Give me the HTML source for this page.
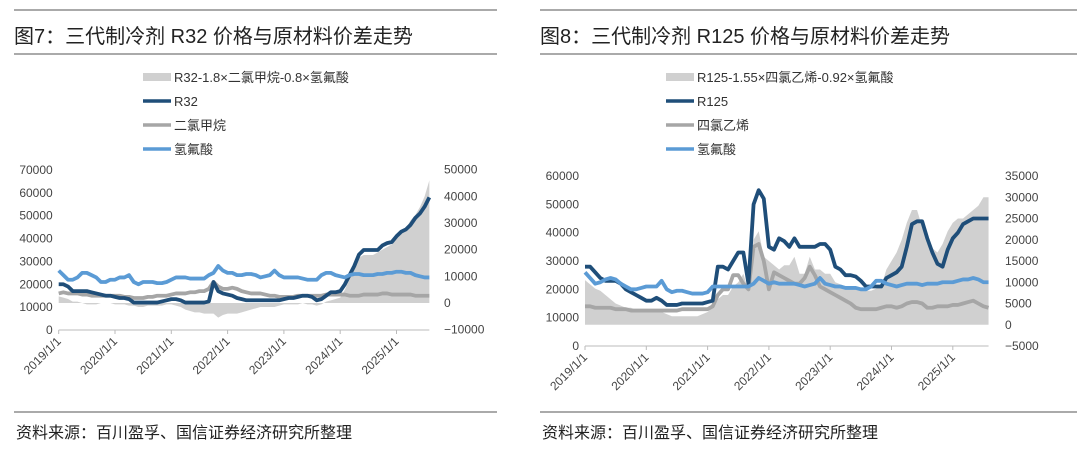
<!DOCTYPE html>
<html><head><meta charset="utf-8"><style>
body{margin:0;background:#fff;width:1080px;height:449px;overflow:hidden;font-family:"Liberation Sans","Noto Sans CJK SC",sans-serif}
svg{position:absolute;left:0;top:0}
</style></head><body>
<svg id="c" width="1080" height="449" xmlns="http://www.w3.org/2000/svg"></svg>
<script>
const years = ["2019/1/1","2020/1/1","2021/1/1","2022/1/1","2023/1/1","2024/1/1","2025/1/1"];
const leftTicksA = [0,10000,20000,30000,40000,50000,60000,70000];
const rightTicksA = [-10000,0,10000,20000,30000,40000,50000];
const leftTicksB = [0,10000,20000,30000,40000,50000,60000];
const rightTicksB = [-5000,0,5000,10000,15000,20000,25000,30000,35000];
const r32 = [20000,20000,19000,17000,17000,17000,17000,16500,16000,15500,15000,15000,
14500,14000,14000,13500,12000,12000,12000,12000,12000,12000,12500,13000,
13500,13500,13000,12000,12000,12000,12000,12000,12500,21000,17000,16000,
15500,15000,14000,13500,13000,13000,13000,13000,13000,13000,13000,13000,
13500,14000,14000,14500,15000,15000,14500,13000,13500,15000,16500,16500,
17000,20000,24000,28000,33000,35000,35000,35000,35000,37000,38000,38500,
41000,43000,44000,46000,49000,51000,54000,58000];
const hfA = [26000,24000,22000,22000,23000,25000,25000,24000,23000,21000,21000,22000,
22000,23000,23000,24000,21000,20000,21000,21000,21000,20500,20500,21000,
22000,23000,23000,23000,22500,22500,22500,22500,24000,25000,28000,26000,
25000,25000,24000,24000,24500,24500,24000,23000,23500,24000,26000,24000,
23000,23000,23000,23000,22500,22000,22000,22000,24000,25000,25000,24000,
23500,23000,24000,24500,24500,24000,24000,24000,24500,24500,25000,25000,
25500,25500,25000,25000,24000,23500,23000,23000];
const dcm = [16000,16500,16000,16000,16000,15500,15500,15000,15000,15000,15000,15000,
15000,15000,14500,14500,14000,14000,14000,14500,14500,15000,15000,15000,
15500,16000,16000,16000,16500,16500,17000,17000,18000,21000,19000,18000,
18000,18500,18000,17000,16500,16000,16000,16000,15500,15000,15000,14500,
14500,14500,14500,15000,15000,15000,15000,15000,15000,15500,15500,15500,
15500,15500,15000,15000,15000,15500,15500,15500,15500,16000,16000,15500,
15500,15500,15500,15500,15000,15000,15000,15000];
const spreadA = [2500,2000,1500,500,500,0,-500,-500,-500,0,0,0,
-500,-500,-500,-1000,-1000,-1500,-1500,-1000,-1000,-1000,-1000,-500,
-500,-1000,-1500,-2500,-3000,-3500,-3500,-4000,-4000,-4000,-5500,-4500,
-4000,-4000,-4000,-3500,-3000,-2500,-2000,-1500,-1500,-1500,-1500,-1000,
-500,-500,-500,-500,0,-500,-500,-1000,-500,500,1000,1500,
2000,5000,9000,13000,17000,18000,18000,18000,19000,20000,21000,22000,
25000,27000,28000,31000,33000,36000,40000,46000];
const r125 = [28000,28000,26000,24000,23000,23000,23000,22000,20000,19000,18000,17000,
16000,16000,17000,16000,14500,14500,14500,15000,15000,15000,15000,15000,
15500,16000,28000,28000,27000,30000,33000,33000,22000,50000,55000,52000,
35000,34000,38000,37000,35000,38000,35000,35000,35000,35000,36000,36000,
34000,28000,27000,25000,25000,24500,23000,21000,21000,21000,21000,24000,
25000,26000,28000,35000,43000,44000,44000,38000,33000,29000,28000,34000,
38000,40000,43000,44000,45000,45000,45000,45000];
const hfB = [26000,24000,22000,22500,23500,24000,23500,22000,21000,20000,20000,20500,
21000,21000,21000,23000,20000,19000,19500,19500,19000,18500,18500,18500,
19000,21000,21000,21000,21000,21000,21000,21000,21000,22000,24000,23000,
22000,22500,22000,22000,22000,22000,21500,21000,21500,22000,24000,22000,
21500,21000,21000,20500,20500,20500,20000,20000,21000,23000,23000,22000,
21500,21000,21500,22000,22000,22000,21500,22000,22000,22000,22500,22500,
22500,23000,23500,23500,24000,23500,22500,22500];
const pce = [14000,14000,13500,13500,13500,13500,13000,13000,13000,12500,12500,12500,
12500,12500,12500,12500,12500,12500,12500,13000,13000,13000,13000,13000,
13000,14000,18000,20000,20000,25000,25000,22000,20000,35000,36000,30000,
20000,26000,25000,24000,23000,22000,22000,24000,28000,25000,21000,20000,
19000,18000,17000,16000,15000,13500,13000,13000,13000,13000,13500,14000,
14000,13500,14000,15000,15500,15500,15000,13500,13500,14000,14000,14000,
14500,14500,15000,15500,16000,15000,14000,13500];
const spreadB = [10500,9500,8500,8000,7000,6000,5000,4500,4000,4000,3500,3000,
3000,3000,3500,3000,2500,2000,2000,2000,2000,2000,2000,2500,
3000,4000,6000,7000,7000,9000,10000,12000,8000,20000,22000,16000,
15000,14000,13000,14000,14000,16000,12000,12000,16000,13000,13000,12000,
12000,10000,9500,9000,9000,9000,8500,8000,8000,8500,9000,13000,
15000,17000,20000,24000,27000,27000,23000,19000,18000,17000,19000,22000,
24000,25000,25000,26000,27000,28000,30000,30000];

const NS='http://www.w3.org/2000/svg';
const svg=document.getElementById('c');
function mk(tag,attrs,parent){const e=document.createElementNS(NS,tag);for(const k in attrs)e.setAttribute(k,attrs[k]);(parent||svg).appendChild(e);return e;}

function panel(cfg){
  const g=mk('g',{});
  
  
  const x0=cfg.x0, yrW=cfg.yrW;
  const xs=i=>x0+i*yrW/12;
  const yl=v=>cfg.l0-v*cfg.lk;
  const yr=v=>cfg.r0-v*cfg.rk;
  let l=mk('line',{x1:cfg.fx1,x2:cfg.fx2,y1:10,y2:10,stroke:'#777','stroke-width':1.3},g);
  
  l=mk('line',{x1:cfg.fx1,x2:cfg.fx2,y1:54,y2:54,stroke:'#777','stroke-width':1.3},g);
  
  l=mk('line',{x1:cfg.fx1,x2:cfg.fx2,y1:412,y2:412,stroke:'#777','stroke-width':1.3},g);
  
  let t=mk('text',{x:cfg.fx1,y:43,'font-size':20,fill:'#222'},g);t.textContent=cfg.title;
  
  t=mk('text',{x:cfg.fx1+2,y:438,'font-size':16,fill:'#222'},g);t.textContent='资料来源：百川盈孚、国信证券经济研究所整理';
  
  const leg=[['#d0d0d0',cfg.names[0],8],['#1f4e79',cfg.names[1],3.5],['#a6a6a6',cfg.names[2],3.5],['#5b9bd5',cfg.names[3],3.5]];
  leg.forEach((d,i)=>{
    const y=cfg.legY+i*24;
    const lg=mk('g',{},g);
    
    mk('line',{x1:cfg.legX,x2:cfg.legX+28,y1:y,y2:y,stroke:d[0],'stroke-width':d[2]},lg);
    const tt=mk('text',{x:cfg.legX+31,y:y+5,'font-size':13,fill:'#333'},lg);tt.textContent=d[1];
  });
  cfg.lt.forEach(v=>{const e=mk('text',{x:cfg.x0-6,y:yl(v)+4,'font-size':12,fill:'#444','text-anchor':'end'},g);e.textContent=v;
    });
  cfg.rt.forEach(v=>{const e=mk('text',{x:cfg.rx,y:yr(v)+4,'font-size':12,fill:'#444'},g);e.textContent=v<0?'−'+(-v):v;
    });
  const n=cfg.spread.length;
  let d='M'+xs(0)+','+yr(0);
  cfg.spread.forEach((v,i)=>{d+=' L'+xs(i)+','+yr(v);});
  d+=' L'+xs(n-1)+','+yr(0)+'Z';
  const a=mk('path',{d:d,fill:'#d0d0d0'},g);
  
  const ax=mk('line',{x1:x0,x2:xs(n-1),y1:yl(0),y2:yl(0),stroke:'#bbb'},g);
  
  years.forEach((y,i)=>{
    const x=x0+i*yrW;
    mk('line',{x1:x,x2:x,y1:yl(0),y2:yl(0)+4,stroke:'#bbb'},g);
    const e=mk('text',{x:x+3,y:yl(0)+12,'font-size':12,fill:'#444','text-anchor':'end',transform:'rotate(-45 '+(x+3)+' '+(yl(0)+12)+')'},g);
    e.textContent=y;
    
  });
  [[cfg.gray,'#a6a6a6','raw-material-line'],[cfg.main,'#1f4e79','product-price-line'],[cfg.hf,'#5b9bd5','hf-price-line']].forEach(s=>{
    const p=mk('polyline',{points:s[0].map((v,i)=>xs(i)+','+yl(v)).join(' '),fill:'none',stroke:s[1],'stroke-width':3.8,'stroke-linejoin':'round'},g);
    
    
  });
}
panel({name:'r32-chart',title:'图7：三代制冷剂 R32 价格与原材料价差走势',fx1:14,fx2:497,x0:58.7,yrW:56.3,l0:330,lk:160/70000,r0:303,rk:160/60000,rx:444,
 lt:leftTicksA,rt:rightTicksA,legX:143,legY:77,names:['R32-1.8×二氯甲烷-0.8×氢氟酸','R32','二氯甲烷','氢氟酸'],
 spread:spreadA,main:r32,gray:dcm,hf:hfA});
panel({name:'r125-chart',title:'图8：三代制冷剂 R125 价格与原材料价差走势',fx1:540,fx2:1077,x0:585,yrW:61.3,l0:346,lk:170/60000,r0:324.75,rk:170/40000,rx:1005,
 lt:leftTicksB,rt:rightTicksB,legX:666,legY:77,names:['R125-1.55×四氯乙烯-0.92×氢氟酸','R125','四氯乙烯','氢氟酸'],
 spread:spreadB,main:r125,gray:pce,hf:hfB});
</script>
</body></html>
